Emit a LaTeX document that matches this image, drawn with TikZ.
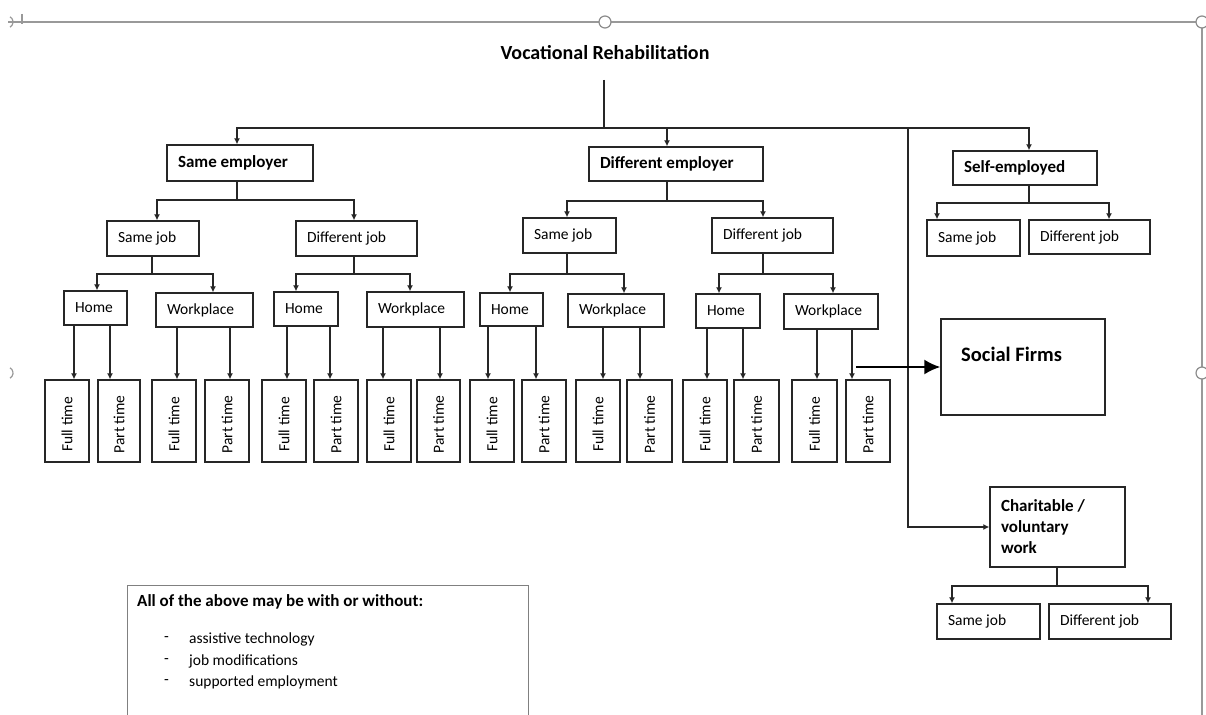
\documentclass[tikz,border=0pt]{standalone}
\usepackage{fontspec}
\setmainfont{Carlito}
\usetikzlibrary{arrows.meta}
\tikzset{
  box/.style={draw=black!85, line width=1.4pt, inner xsep=11pt, inner ysep=0pt, align=flush left, font=\fontsize{15.5}{18}\selectfont},
  bbox/.style={font=\fontsize{17}{20}\bfseries\selectfont},
  leafbox/.style={draw=black!85, line width=1.4pt, inner sep=0pt},
  leaftext/.style={rotate=90, inner sep=0pt, font=\fontsize{15.5}{18}\selectfont},
  txt/.style={inner sep=0pt, anchor=west, font=\fontsize{15.5}{18}\selectfont},
  conn/.style={draw=black!85, line width=1.2pt},
  arr/.style={conn, -{Latex[length=6pt,width=6pt]}},
  bigarr/.style={draw=black, line width=2pt, -{Latex[length=16pt,width=15pt]}},
  framel/.style={draw=black!40, line width=1.2pt},
  handle/.style={draw=black!45, fill=white, line width=1.2pt},
}
% box: name, x1, y1, x2, y2, extra style, text
\newcommand\boxnd[7]{%
  \pgfmathsetmacro\bxw{#4-#2}%
  \pgfmathsetmacro\bxh{#5-#3}%
  \pgfmathsetmacro\bxt{#4-#2-22}%
  \node[box,#6,minimum width=\bxw pt,minimum height=\bxh pt,text width=\bxt pt] (#1) at ({(#2+#4)/2},{(#3+#5)/2}) {#7};}
% leaf: name, x1, x2, text
\newcommand\leafbx[4]{%
  \pgfmathsetmacro\lfw{#3-#2}%
  \node[leafbox,minimum width=\lfw pt,minimum height=82pt] (#1) at ({(#2+#3)/2},421) {};
  \node[leaftext] (#1t) at ({(#2+#3)/2},424.5) {#4};}
% fork: parent, x, busy, child1, x1, child2, x2
\newcommand\forkto[7]{%
  \coordinate (#1-j) at (#2,#3);
  \draw[conn] (#1.south -| #1-j) -- (#1-j);
  \draw[arr] (#1-j) -| (#4.north -| #5,0);
  \draw[arr] (#1-j) -| (#6.north -| #7,0);}
% leaf arrow: parent, child, x
\newcommand\leafarr[3]{\draw[arr] (#1.south -| #3,0) -- (#2.north -| #3,0);}
\begin{document}
\begin{tikzpicture}[x=1pt,y=-1pt]
\useasboundingbox (0,0) rectangle (1206,714);
\fill[white] (0,0) rectangle (1206,714);
% selection frame
\draw[framel] (8,22) -- (1202,22) -- (1202,716);
\draw[framel] (22,14) -- (22,24);
\draw[framel] (7,22) ++(-60:6) arc (-60:60:6);
\draw[framel] (7,373) ++(-60:6) arc (-60:60:6);
\draw[handle] (605,22) circle (6);
\draw[handle] (1202,22) circle (6);
\draw[handle] (1202,373) circle (6);

\node[inner sep=0pt, font=\fontsize{20}{24}\bfseries\selectfont] (title) at (605,53) {Vocational Rehabilitation};

% level 1
\boxnd{se}{167}{145}{313}{181}{bbox}{Same employer}
\boxnd{de}{589}{147}{763}{181}{bbox}{Different employer}
\boxnd{self}{953}{151}{1097}{185}{bbox}{Self-employed}
% level 2
\boxnd{sj1}{107}{221}{199}{256}{}{Same job}
\boxnd{dj1}{296}{221}{417}{256}{}{Different job}
\boxnd{sj2}{523}{218}{616}{253}{}{Same job}
\boxnd{dj2}{712}{218}{833}{253}{}{Different job}
\boxnd{sj3}{927}{220}{1020}{256}{}{Same job}
\boxnd{dj3}{1029}{220}{1150}{254}{}{Different job}
% level 3
\boxnd{h1}{64}{291}{127}{325}{}{Home}
\boxnd{w1}{156}{293}{253}{327}{}{Workplace}
\boxnd{h2}{274}{292}{338}{326}{}{Home}
\boxnd{w2}{367}{292}{464}{327}{}{Workplace}
\boxnd{h3}{480}{293}{543}{326}{}{Home}
\boxnd{w3}{568}{294}{664}{327}{}{Workplace}
\boxnd{h4}{696}{294}{760}{328}{}{Home}
\boxnd{w4}{784}{294}{878}{329}{}{Workplace}
% leaves
\leafbx{f1}{45}{89}{Full time}
\leafbx{p1}{98}{140}{Part time}
\leafbx{f2}{152}{196}{Full time}
\leafbx{p2}{205}{249}{Part time}
\leafbx{f3}{262}{306}{Full time}
\leafbx{p3}{314}{358}{Part time}
\leafbx{f4}{367}{411}{Full time}
\leafbx{p4}{417}{460}{Part time}
\leafbx{f5}{470}{514}{Full time}
\leafbx{p5}{522}{566}{Part time}
\leafbx{f6}{576}{620}{Full time}
\leafbx{p6}{627}{672}{Part time}
\leafbx{f7}{683}{727}{Full time}
\leafbx{p7}{734}{779}{Part time}
\leafbx{f8}{792}{837}{Full time}
\leafbx{p8}{846}{890}{Part time}
% right side
\node[box, minimum width=164pt, minimum height=96pt] (sf) at (1023,367) {};
\node[txt, font=\fontsize{20.5}{24}\bfseries\selectfont] (sft) at (961,354) {Social Firms};
\boxnd{ch}{990}{487}{1125}{567}{font=\fontsize{17}{21}\bfseries\selectfont}{Charitable /\\voluntary\\work}
\boxnd{sj4}{937}{604}{1040}{639}{}{Same job}
\boxnd{dj4}{1049}{604}{1171}{639}{}{Different job}

% top bus
\coordinate (tb) at (604,80);
\coordinate (tbus) at (604,128);
\draw[conn] (tb) -- (tbus);
\draw[arr] (tbus) -| (se.north -| 237,0);
\draw[arr] (tbus) -| (de.north -| 667,0);
\draw[arr] (tbus) -| (self.north -| 1029,0);
\draw[arr] (tbus) -| (908,0 |- ch.west) -- (ch.west);

% forks
\forkto{se}{237}{200}{sj1}{157}{dj1}{354}
\forkto{sj1}{152}{274}{h1}{97}{w1}{213}
\forkto{dj1}{354}{274}{h2}{296}{w2}{410}
\forkto{de}{667}{201}{sj2}{567}{dj2}{763}
\forkto{sj2}{567}{274}{h3}{510}{w3}{624}
\forkto{dj2}{763}{274}{h4}{719}{w4}{833}
\forkto{self}{1029}{203}{sj3}{937}{dj3}{1109}
\forkto{ch}{1057}{586}{sj4}{952}{dj4}{1148}

% leaf arrows
\leafarr{h1}{f1}{74}\leafarr{h1}{p1}{110}
\leafarr{w1}{f2}{177}\leafarr{w1}{p2}{230}
\leafarr{h2}{f3}{287}\leafarr{h2}{p3}{330}
\leafarr{w2}{f4}{383}\leafarr{w2}{p4}{440}
\leafarr{h3}{f5}{488}\leafarr{h3}{p5}{536}
\leafarr{w3}{f6}{603}\leafarr{w3}{p6}{640}
\leafarr{h4}{f7}{707}\leafarr{h4}{p7}{743}
\leafarr{w4}{f8}{817}\leafarr{w4}{p8}{852}

% social firms arrow
\coordinate (sfs) at (856,367);
\draw[bigarr] (sfs) -- (sf.west);

% note
\node[draw=black!50, line width=1.2pt, minimum width=401pt, minimum height=135pt, anchor=north west, inner sep=0pt] (note) at (127,585) {};
\node[txt, font=\fontsize{17}{20}\bfseries\selectfont] (nh) at (137,602) {All of the above may be with or without:};
\node[txt] (nd1) at (164,639) {-};
\node[txt] (nt1) at (189,639) {assistive technology};
\node[txt] (nd2) at (164,661) {-};
\node[txt] (nt2) at (189,661) {job modifications};
\node[txt] (nd3) at (164,682) {-};
\node[txt] (nt3) at (189,682) {supported employment};
\end{tikzpicture}
\end{document}
